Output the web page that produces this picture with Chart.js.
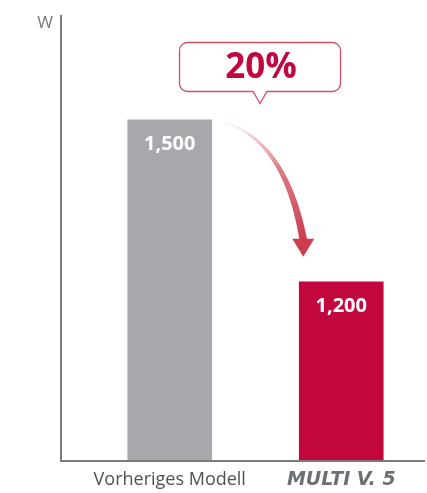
<!DOCTYPE html>
<html>
<head>
<meta charset="utf-8">
<script src="https://cdn.jsdelivr.net/npm/chart.js@4/dist/chart.umd.min.js"></script>
<style>
  body { margin: 0; background: #fff; }
  canvas { display: block; }
</style>
</head>
<body>
<canvas id="myChart" width="427" height="493"></canvas>
<script>
// values
const categories = ['Vorheriges Modell', 'MULTI V. 5'];
const powerW = [1500, 1200];
const unitLabel = 'W';
const savingLabel = '20%';
const barColors = ['#a7a8ab', '#c1073e'];

const FONT = "'Open Sans', 'Noto Sans', sans-serif";

// axis lines, value labels, callout and arrow
const decor = {
    id: 'decor',
    afterDatasetsDraw(chart) {
        const ctx = chart.ctx;
        const area = chart.chartArea;
        const bars = chart.getDatasetMeta(0).data;
        const axisX = 61;

        ctx.save();
        // axes
        ctx.strokeStyle = '#7a7a7a';
        ctx.lineWidth = 2;
        ctx.beginPath();
        ctx.moveTo(axisX, area.top);
        ctx.lineTo(axisX, area.bottom);
        ctx.lineTo(chart.width - 2, area.bottom);
        ctx.stroke();

        // unit
        ctx.fillStyle = '#777';
        ctx.font = '17px ' + FONT;
        ctx.textAlign = 'right';
        ctx.textBaseline = 'middle';
        ctx.fillText(unitLabel, axisX - 8, area.top + 8);

        // values inside the bars
        ctx.fillStyle = '#fff';
        ctx.font = 'bold 20px ' + FONT;
        ctx.textAlign = 'center';
        bars.forEach((b, i) => {
            ctx.fillText(powerW[i].toLocaleString('en-US'), b.x, b.y + 25);
        });

        // arrow from first bar down to second
        const b0 = bars[0], b1 = bars[1];
        const p0 = {x: b0.x + 53, y: b0.y + 2};
        const cp = {x: b1.x - 56, y: b0.y + 20};
        const p1 = {x: b1.x - 38, y: b1.y - 42};
        const tip = {x: b1.x - 38, y: b1.y - 25};
        const grad = ctx.createLinearGradient(p0.x, p0.y, p1.x, p1.y);
        grad.addColorStop(0, 'rgba(235,170,178,0.15)');
        grad.addColorStop(0.5, 'rgba(214,100,112,0.85)');
        grad.addColorStop(1, '#cc3d4e');
        const left = [], right = [];
        const n = 40;
        for (let k = 0; k <= n; k++) {
            const t = k / n;
            const x = (1 - t) * (1 - t) * p0.x + 2 * (1 - t) * t * cp.x + t * t * p1.x;
            const y = (1 - t) * (1 - t) * p0.y + 2 * (1 - t) * t * cp.y + t * t * p1.y;
            const dx = 2 * (1 - t) * (cp.x - p0.x) + 2 * t * (p1.x - cp.x);
            const dy = 2 * (1 - t) * (cp.y - p0.y) + 2 * t * (p1.y - cp.y);
            const len = Math.hypot(dx, dy);
            const hw = 0.4 + 3.4 * t;
            const nx = -dy / len, ny = dx / len;
            left.push([x + nx * hw, y + ny * hw]);
            right.push([x - nx * hw, y - ny * hw]);
        }
        ctx.fillStyle = grad;
        ctx.beginPath();
        left.forEach((p, k) => k ? ctx.lineTo(p[0], p[1]) : ctx.moveTo(p[0], p[1]));
        right.reverse().forEach(p => ctx.lineTo(p[0], p[1]));
        ctx.closePath();
        ctx.fill();
        ctx.fillStyle = '#cc3d4e';
        ctx.beginPath();
        ctx.moveTo(tip.x - 11, p1.y - 1);
        ctx.lineTo(tip.x + 11, p1.y - 1);
        ctx.lineTo(tip.x, tip.y);
        ctx.closePath();
        ctx.fill();

        // callout bubble
        const bx = 179.5, by = 42.5, bw = 161, bh = 49, r = 8;
        const px = 260;
        ctx.strokeStyle = '#d24d68';
        ctx.lineWidth = 1.3;
        ctx.fillStyle = '#fff';
        ctx.beginPath();
        ctx.moveTo(bx + r, by);
        ctx.lineTo(bx + bw - r, by);
        ctx.arcTo(bx + bw, by, bx + bw, by + r, r);
        ctx.lineTo(bx + bw, by + bh - r);
        ctx.arcTo(bx + bw, by + bh, bx + bw - r, by + bh, r);
        ctx.lineTo(px + 7, by + bh);
        ctx.lineTo(px, by + bh + 12);
        ctx.lineTo(px - 7, by + bh);
        ctx.lineTo(bx + r, by + bh);
        ctx.arcTo(bx, by + bh, bx, by + bh - r, r);
        ctx.lineTo(bx, by + r);
        ctx.arcTo(bx, by, bx + r, by, r);
        ctx.closePath();
        ctx.fill();
        ctx.stroke();
        ctx.fillStyle = '#c1073e';
        ctx.font = 'bold 35px ' + FONT;
        ctx.textAlign = 'center';
        ctx.textBaseline = 'middle';
        ctx.fillText(savingLabel, 261, 68);
        ctx.restore();
    }
};

var ctx = document.getElementById('myChart').getContext('2d');

var myChart = new Chart(ctx, {
    type: 'bar',
    data: {
        labels: categories,
        datasets: [{
            label: 'W',
            data: powerW,
            backgroundColor: barColors,
            borderWidth: 0,
            barThickness: 84
        }]
    },
    options: {
        responsive: false,
        animation: false,
        layout: {
            padding: {left: 84, right: 0, top: 15, bottom: 0}
        },
        plugins: {
            legend: {display: false},
            tooltip: {enabled: false}
        },
        scales: {
            x: {
                grid: {display: false, drawTicks: false},
                border: {display: false},
                afterFit: scale => { scale.height = 32; },
                ticks: {
                    padding: 8,
                    color: ctx => ctx.index === 1 ? '#6c6f73' : '#505050',
                    font: ctx => ctx.index === 1
                        ? {family: "'DejaVu Sans', sans-serif", size: 19, weight: 'bold', style: 'italic'}
                        : {family: FONT, size: 18, weight: 'normal'}
                }
            },
            y: {
                display: false,
                min: 868,
                max: 1694
            }
        }
    },
    plugins: [decor]
});
</script>
</body>
</html>
